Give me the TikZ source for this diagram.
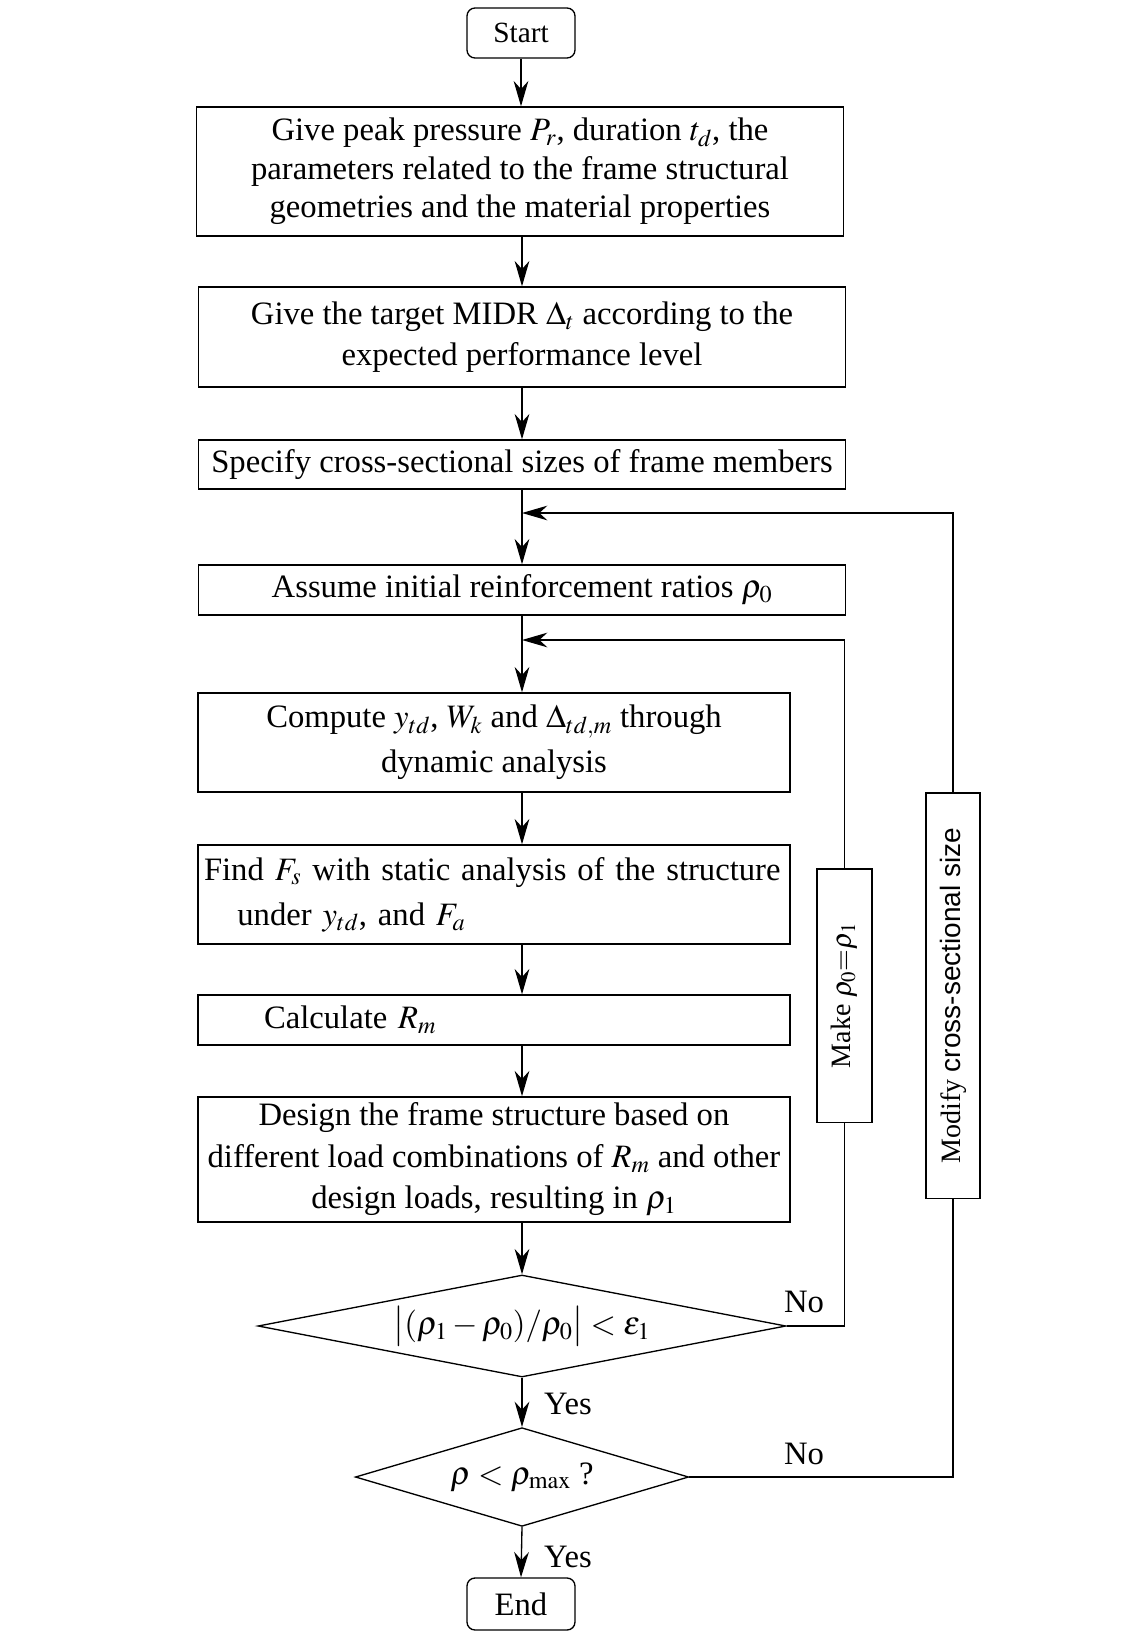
\documentclass[tikz,border=0pt]{standalone}
\usepackage{amsmath}
\usepackage{mathptmx}
\usepackage[no-math]{fontspec}
\setmainfont{Liberation Serif}
\setsansfont{Liberation Sans}
\usetikzlibrary{shapes.geometric,arrows.meta}

\begin{document}
\begin{tikzpicture}[x=0.75pt,y=-0.75pt,
  every node/.style={font=\fontsize{24.5}{31}\selectfont},
  box/.style={draw,line width=1pt,inner sep=4.5pt,align=center},
  term/.style={box,rounded corners=6pt,minimum width=81pt,minimum height=37.5pt},
  wide/.style={box,minimum width=485pt},
  narrow/.style={box,minimum width=444pt},
  side/.style={draw,line width=1pt,inner sep=0pt,font=\fontsize{21}{25}\selectfont},
  test/.style={draw,line width=1pt,shape=diamond,inner sep=0pt},
  arr/.style={line width=1pt,-{Stealth[length=19pt,width=11pt,inset=6pt]}},
  link/.style={line width=1pt}]
\useasboundingbox (0,0) rectangle (1147,1631);
\coordinate (spine) at (522,0);

% main column
\node[term,font=\fontsize{22}{26}\selectfont] (start) at (521,33) {Start};
\node[wide,minimum height=96.75pt,font=\fontsize{24.5}{29}\selectfont] (peak) at (520,171.5)
  {Give peak pressure $P_r$, duration $t_d$, the\\ parameters related to the frame structural\\ geometries and the material properties};
\node[wide,minimum height=75pt] (target) at (522,337)
  {Give the target MIDR $\Delta_t$ according to the\\ expected performance level};
\node[wide,minimum height=36.75pt] (sizes) at (522,464.5)
  {Specify cross-sectional sizes of frame members};
\node[wide,minimum height=37.5pt] (ratio) at (522,590)
  {Assume initial reinforcement ratios $\rho_0$};
\node[narrow,minimum height=74.25pt,font=\fontsize{24.5}{33.5}\selectfont] (dyn) at (494,742.5)
  {Compute $y_{td}$, $W_k$ and $\Delta_{td,m}$ through\\ dynamic analysis};
\node[narrow,minimum height=74.25pt,text width=435pt,align=left,font=\fontsize{24.5}{34}\selectfont] (static) at (494,894.5)
  {Find $F_s$ with static analysis of the structure\\ \hspace*{25pt}under $y_{td}$, and $F_a$};
\node[narrow,minimum height=37.5pt,text width=435pt,align=left] (calc) at (494,1020)
  {\hspace*{45pt}Calculate $R_m$};
\node[narrow,minimum height=93.75pt] (design) at (494,1159.5)
  {Design the frame structure based on\\ different load combinations of $R_m$ and other\\ design loads, resulting in $\rho_1$};
\node[test,aspect=5.18,minimum width=396pt,minimum height=76.5pt] (conv) at (522,1326)
  {$\bigl|(\rho_1-\rho_0)/\rho_0\bigr|<\varepsilon_1$};
\node[test,aspect=3.38,minimum width=250pt,minimum height=74pt] (limit) at (522,1477)
  {$\rho<\rho_{\max}$ ?};
\node[term,minimum height=39pt] (finish) at (521,1604) {End};

% feedback boxes
\node[side,minimum width=41.25pt,minimum height=190pt] (make) at (844.5,995.5)
  {\rotatebox{90}{Make $\rho_0{=}\rho_1$}};
\node[side,minimum width=40.5pt,minimum height=304pt] (modify) at (953,995.5)
  {\rotatebox{90}{Modify {\sffamily cross-sectional size}}};

\coordinate (j1) at (522,513);
\coordinate (j2) at (522,640);

% connectors
\draw[arr] (start.south) -- (start.south |- peak.north);
\draw[arr] (peak.south -| spine) -- (target.north);
\draw[arr] (target.south) -- (sizes.north);
\draw[arr] (sizes.south) -- (ratio.north);
\draw[arr] (modify.north) |- (j1);
\draw[arr] (ratio.south) -- (dyn.north -| spine);
\draw[arr] (make.north) |- (j2);
\draw[arr] (dyn.south -| spine) -- (static.north -| spine);
\draw[arr] (static.south -| spine) -- (calc.north -| spine);
\draw[arr] (calc.south -| spine) -- (design.north -| spine);
\draw[arr] (design.south -| spine) -- (conv.north);
\draw[link] (conv.east) -| (make.south);
\draw[arr] (conv.south) -- (limit.north);
\draw[link] (limit.east) -| (modify.south);
\draw[arr] (limit.south) -- (finish.north);

% branch labels
\node (no1) at (804,1302) {No};
\node (no2) at (804,1454) {No};
\node (yes1) at (568,1404) {Yes};
\node (yes2) at (568,1557) {Yes};
\end{tikzpicture}
\end{document}
